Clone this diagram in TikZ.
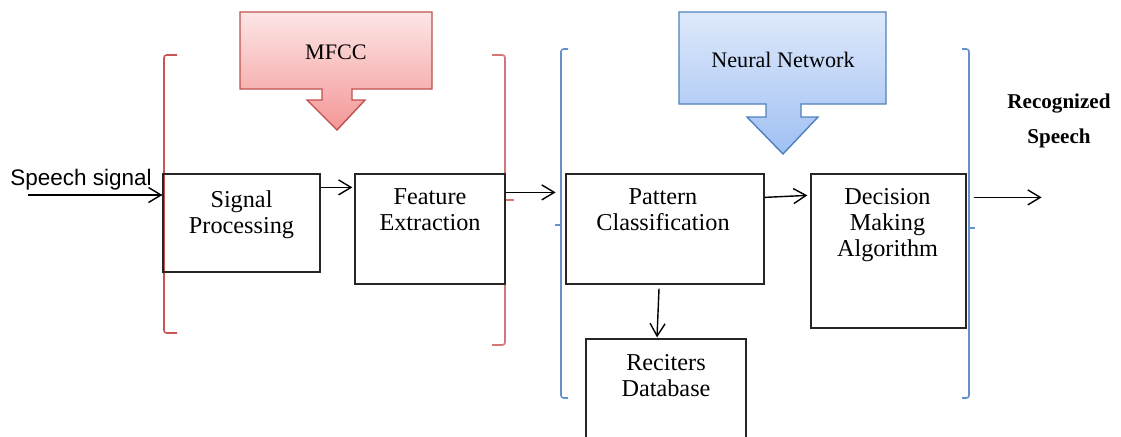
\documentclass[tikz,border=0pt]{standalone}
\usepackage{fontspec}
\setmainfont{Liberation Serif}
\newfontfamily\arialfont{Liberation Sans}
\usetikzlibrary{positioning,fit,calc,arrows.meta}
\definecolor{mfccline}{RGB}{192,80,77}
\definecolor{mfcctop}{RGB}{253,230,230}
\definecolor{mfccbot}{RGB}{244,150,150}
\definecolor{nnline}{RGB}{79,129,189}
\definecolor{nntop}{RGB}{222,233,251}
\definecolor{nnbot}{RGB}{160,192,242}
\definecolor{redbracket}{RGB}{200,85,85}
\definecolor{bluebracket}{RGB}{100,145,205}

\begin{document}
\begin{tikzpicture}[x=0.02cm,y=-0.02cm]
    \tikzstyle{every node}+=[inner sep=0pt]
    \tikzstyle{box}=[draw=black!85, line width=0.7pt]
    \tikzstyle{boxtext}=[anchor=north, align=center, font=\fontsize{13.8}{14.6}\selectfont]
    \tikzstyle{arr}=[line width=0.8pt, -{Straight Barb[length=2.5mm,width=3mm]}]
    \tikzstyle{bracket}=[line width=0.9pt, rounded corners=1.5pt]
    \useasboundingbox (0,0) rectangle (1121,436);
    % block arrows on top
    \draw [mfccline, line width=0.8pt, top color=mfcctop, bottom color=mfccbot] (240,12) -- (432,12) -- (432,89) -- (352,89) -- (352,100) -- (365,100) -- (337,130) -- (307,100) -- (322,100) -- (322,89) -- (240,89) -- cycle;
    \node [font=\fontsize{12.6}{15}\selectfont] (mfcc) at (336,52) {MFCC};
    \draw [nnline, line width=0.8pt, top color=nntop, bottom color=nnbot] (679,12) -- (886,12) -- (886,104) -- (801,104) -- (801,117) -- (818,117) -- (783,154) -- (747,117) -- (766,117) -- (766,104) -- (679,104) -- cycle;
    \node [font=\fontsize{12.6}{15}\selectfont] (nn) at (783,60) {Neural Network};
    % brackets
    \draw [bracket, redbracket] (177,55) -- (164,55) -- (164,333) -- (177,333);
    \draw [redbracket, line width=0.9pt] (158,195) -- (164,195);
    \draw [bracket, redbracket!80] (492,55) -- (505,55) -- (505,345) -- (492,345);
    \draw [redbracket!80, line width=0.9pt] (505,200) -- (514,200);
    \draw [bracket, bluebracket] (568,49) -- (561,49) -- (561,398) -- (568,398);
    \draw [bluebracket, line width=0.9pt] (555,225) -- (561,225);
    \draw [bracket, bluebracket] (962,49) -- (969,49) -- (969,398) -- (962,398);
    \draw [bluebracket, line width=0.9pt] (969,228) -- (975,228);
    % boxes
    \node [box, fit={(163,174) (320,272)}] (sp) {};
    \node [boxtext] (sptext) at ($(sp.north)+(0,17)$) {Signal\\Processing};
    \node [box, fit={(355,174) (505,284)}] (fe) {};
    \node [boxtext] (fetext) at ($(fe.north)+(0,15)$) {Feature\\Extraction};
    \node [box, fit={(566,174) (764,284)}] (pc) {};
    \node [boxtext] (pctext) at ($(pc.north)+(-2,15)$) {Pattern\\Classification};
    \node [box, fit={(811,174) (966,328)}] (dm) {};
    \node [boxtext] (dmtext) at ($(dm.north)+(-1,15)$) {Decision\\Making\\Algorithm};
    \node [box, fit={(586,339) (746,450)}] (rd) {};
    \node [boxtext] (rdtext) at ($(rd.north)+(0,16)$) {Reciters\\Database};
    % input and output
    \node [font=\arialfont\fontsize{12.8}{15}\selectfont] (speech) at (81,180) {Speech signal};
    \coordinate (sin) at (28,195);
    \node [align=center, font=\bfseries\fontsize{12}{20}\selectfont] (out) at (1059,121) {Recognized\\Speech};
    % connectors
    \draw [arr] (sin) -- (sin -| sp.west);
    \draw [arr] ($(sp.north east)+(0,14)$) -- ($(fe.north west)+(-2,14)$);
    \draw [arr] ($(fe.north east)+(0,19)$) -- ($(fe.north east)+(50,19)$);
    \draw [arr] ($(pc.north east)+(0,24)$) -- ($(dm.north west)+(-3,22)$);
    \draw [arr] ($(dm.north east)+(7,24)$) -- ($(dm.north east)+(75,24)$);
    \draw [arr] ($(pc.south)+(-6,4)$) -- ($(rd.north)+(-9,-1)$);
\end{tikzpicture}
\end{document}
